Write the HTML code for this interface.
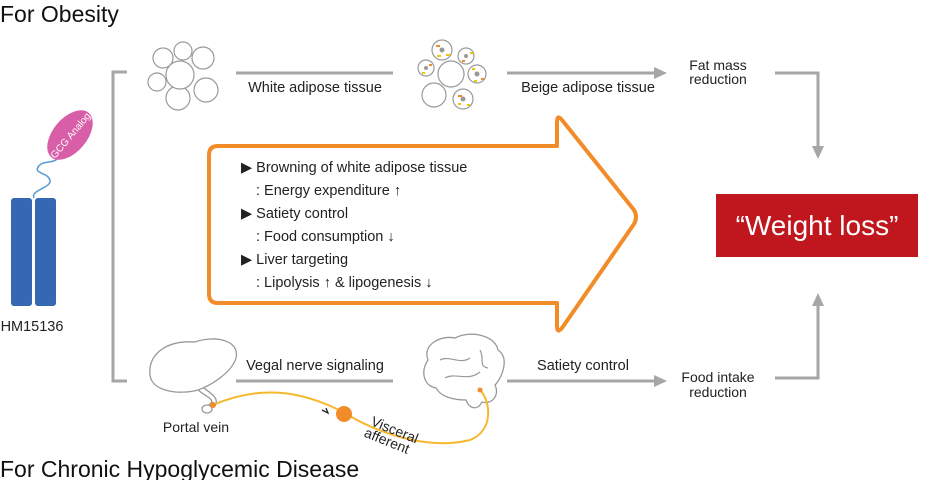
<!DOCTYPE html>
<html><head><meta charset="utf-8"><style>
body{margin:0;width:934px;height:480px;overflow:hidden;background:#fff;font-family:"Liberation Sans",sans-serif;}
</style></head><body>
<svg width="934" height="480" viewBox="0 0 934 480" xmlns="http://www.w3.org/2000/svg" font-family="Liberation Sans, sans-serif">
<defs>
<marker id="ah" markerWidth="14" markerHeight="14" refX="8" refY="7" orient="auto" markerUnits="userSpaceOnUse">
<path d="M0,1 L13,7 L0,13 z" fill="#a6a6a6"/></marker>
</defs>
<text x="0" y="22" font-size="23" fill="#111">For Obesity</text>
<text x="0" y="477" font-size="23" fill="#111">For Chronic Hypoglycemic Disease</text>

<!-- receptor -->
<rect x="11" y="198" width="21" height="108" rx="3" fill="#3567b3"/>
<rect x="35" y="198" width="21" height="108" rx="3" fill="#3567b3"/>
<path d="M34,198 C30,190 52,188 50,180 C47,172 34,174 38,167 C42,160 54,164 58,158" fill="none" stroke="#5b9bd5" stroke-width="1.5"/>
<g transform="translate(70,135) rotate(-50)">
<ellipse cx="0" cy="0" rx="29" ry="17" fill="#d95ea8"/>
<text x="0" y="4" font-size="10" fill="#fff" text-anchor="middle">GCG Analog</text>
</g>
<text x="32" y="331" font-size="14.5" fill="#222" text-anchor="middle">HM15136</text>

<!-- bracket -->
<path d="M127,72 H113 V381 H127" fill="none" stroke="#a6a6a6" stroke-width="3"/>

<!-- white cells -->
<g fill="#fff" stroke="#999" stroke-width="1.2">
<circle cx="183" cy="51" r="9"/><circle cx="203" cy="58" r="11"/><circle cx="163" cy="58" r="10"/>
<circle cx="157" cy="82" r="9"/><circle cx="206" cy="90" r="12"/><circle cx="178" cy="98" r="12"/>
<circle cx="180" cy="75" r="14"/>
</g>
<!-- beige cells -->
<g stroke="#999" stroke-width="1.2" fill="#fff">
<circle cx="442" cy="50" r="10"/><circle cx="466" cy="56" r="8"/><circle cx="426" cy="68" r="8"/>
<circle cx="477" cy="74" r="9"/><circle cx="434" cy="95" r="12"/><circle cx="463" cy="99" r="10"/>
<circle cx="451" cy="74" r="13"/>
</g>
<g fill="#f28a2e"><circle cx="442" cy="50" r="2.5" fill="#999"/><circle cx="466" cy="56" r="2" fill="#999"/><circle cx="426" cy="68" r="2" fill="#999"/><circle cx="477" cy="74" r="2.5" fill="#999"/><circle cx="463" cy="99" r="2.5" fill="#999"/>
<rect x="436" y="45" width="4" height="2"/><rect x="446" y="54" width="4" height="2" fill="#f5c400"/><rect x="437" y="55" width="4" height="2" fill="#f5c400"/><rect x="470" y="52" width="3" height="2" fill="#f5c400"/><rect x="462" y="60" width="3" height="2"/><rect x="422" y="72" width="3" height="2" fill="#f5c400"/><rect x="429" y="64" width="3" height="2"/><rect x="481" y="78" width="3" height="2"/><rect x="472" y="68" width="3" height="2" fill="#f5c400"/><rect x="474" y="80" width="3" height="2" fill="#f5c400"/><rect x="458" y="95" width="4" height="2"/><rect x="467" y="104" width="3" height="2" fill="#f5c400"/><rect x="458" y="103" width="3" height="2" fill="#f5c400"/></g>

<!-- top lines -->
<line x1="236" y1="73" x2="393" y2="73" stroke="#a6a6a6" stroke-width="3"/>
<text x="315" y="92" font-size="14.5" fill="#222" text-anchor="middle">White adipose tissue</text>
<line x1="507" y1="73" x2="662" y2="73" stroke="#a6a6a6" stroke-width="3" marker-end="url(#ah)"/>
<text x="588" y="92" font-size="14.5" fill="#222" text-anchor="middle">Beige adipose tissue</text>
<text x="718" y="70" font-size="14" fill="#222" text-anchor="middle">Fat mass</text>
<text x="718" y="84" font-size="14" fill="#222" text-anchor="middle">reduction</text>
<path d="M775,73 H818 V154" fill="none" stroke="#a6a6a6" stroke-width="3" marker-end="url(#ah)"/>

<!-- weight loss -->
<rect x="716" y="194" width="202" height="63" fill="#c0161e"/>
<text x="817" y="235" font-size="28" fill="#fff" text-anchor="middle">“Weight loss”</text>

<!-- bottom lines -->
<line x1="236" y1="381" x2="393" y2="381" stroke="#a6a6a6" stroke-width="3"/>
<text x="315" y="370" font-size="14.5" fill="#222" text-anchor="middle">Vegal nerve signaling</text>
<line x1="507" y1="381" x2="662" y2="381" stroke="#a6a6a6" stroke-width="3" marker-end="url(#ah)"/>
<text x="583" y="370" font-size="14.5" fill="#222" text-anchor="middle">Satiety control</text>
<text x="718" y="382" font-size="14" fill="#222" text-anchor="middle">Food intake</text>
<text x="718" y="397" font-size="14" fill="#222" text-anchor="middle">reduction</text>
<path d="M775,378 H818 V298" fill="none" stroke="#a6a6a6" stroke-width="3" marker-end="url(#ah)"/>

<!-- orange arrow -->
<path d="M218,146 H557 V122 Q557,114 562,120 L634,210 Q638,217 634,224 L562,328 Q557,334 557,326 V303 H218 Q209,303 209,294 V155 Q209,146 218,146 Z" fill="#fff" stroke="#f28c28" stroke-width="4" stroke-linejoin="round"/>
<g font-size="14.5" fill="#222">
<text x="241" y="172">▶ Browning of white adipose tissue</text>
<text x="256" y="195">: Energy expenditure ↑</text>
<text x="241" y="218">▶ Satiety control</text>
<text x="256" y="241">: Food consumption ↓</text>
<text x="241" y="264">▶ Liver targeting</text>
<text x="256" y="287">: Lipolysis ↑ &amp; lipogenesis ↓</text>
</g>

<!-- liver -->
<path d="M150,375 C148,355 165,340 195,342 C215,335 240,340 236,358 C232,372 212,385 198,390 C180,395 152,392 150,375 Z" fill="#fff" stroke="#999" stroke-width="1.3"/>
<path d="M198,390 C205,396 212,398 212,402 L204,410 M204,388 C212,394 218,398 216,404" fill="none" stroke="#999" stroke-width="1.3"/>
<ellipse cx="207" cy="409" rx="5" ry="4" fill="#fff" stroke="#999" stroke-width="1.3"/>
<text x="196" y="432" font-size="14" fill="#222" text-anchor="middle">Portal vein</text>
<!-- brain -->
<path d="M428,360 C422,345 440,335 455,338 C470,330 495,335 498,350 C510,358 502,378 495,385 C500,395 492,405 482,402 C478,410 470,410 466,400 C452,400 440,396 436,388 C424,386 420,372 428,360 Z" fill="#fff" stroke="#999" stroke-width="1.3"/>
<path d="M440,360 C450,355 460,365 470,358 M445,378 C455,372 468,382 480,372 M480,350 C485,360 478,366 488,368" fill="none" stroke="#999" stroke-width="1.2"/>
<!-- nerve -->
<path d="M213,405 C260,385 300,390 343,412 C380,435 430,450 470,440 C495,430 490,400 480,390" fill="none" stroke="#f5b82e" stroke-width="2"/>
<circle cx="213" cy="405" r="3" fill="#f28c28"/>
<circle cx="480" cy="390" r="2.5" fill="#f28c28"/>
<circle cx="344" cy="414" r="8" fill="#f28c28"/>
<path d="M322,410 L328,413 L326,408" fill="none" stroke="#222" stroke-width="1.3"/>
<g transform="translate(370,425) rotate(22)" font-size="14" fill="#222">
<text x="0" y="0">Visceral</text><text x="-2" y="13">afferent</text></g>
</svg>
</body></html>
